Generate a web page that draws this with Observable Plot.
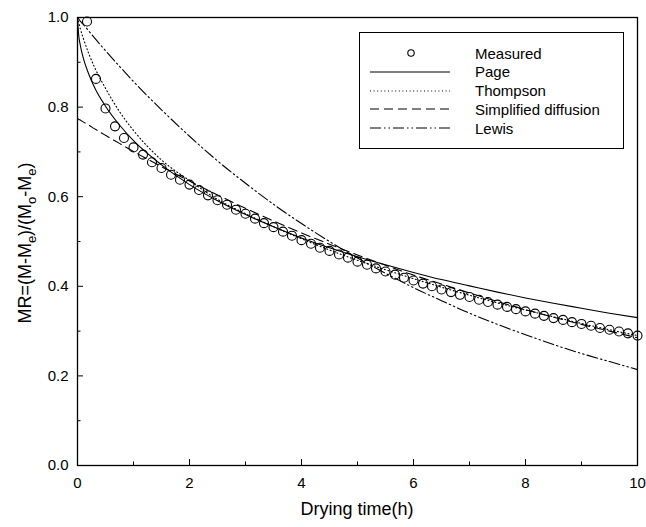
<!DOCTYPE html>
<html><head><meta charset="utf-8">
<script src="https://cdn.jsdelivr.net/npm/d3@7"></script>
<script src="https://cdn.jsdelivr.net/npm/@observablehq/plot@0.6"></script>
<style>
body{margin:0;background:#fff;font-family:"Liberation Sans",Arial,sans-serif;}
#wrap{position:relative;width:646px;height:527px;}
#legend{position:absolute;left:359px;top:32px;width:265px;height:117px;border:1px solid #000;background:#fff;box-sizing:border-box;}
</style></head><body><div id="wrap"></div>
<script>
// Measured drying data (time in h, moisture ratio)
const measuredTime = [0.17,0.33,0.50,0.67,0.83,1.00,1.17,1.33,1.50,1.67,1.83,2.00,2.17,2.33,2.50,2.67,2.83,3.00,3.17,3.33,3.50,3.67,3.83,4.00,4.17,4.33,4.50,4.67,4.83,5.00,5.17,5.33,5.50,5.67,5.83,6.00,6.17,6.33,6.50,6.67,6.83,7.00,7.17,7.33,7.50,7.67,7.83,8.00,8.17,8.33,8.50,8.67,8.83,9.00,9.17,9.33,9.50,9.67,9.83,10.00];
const measuredMR = [0.991,0.863,0.797,0.757,0.731,0.710,0.694,0.677,0.664,0.649,
0.638,0.627,0.615,0.603,0.592,0.582,0.571,0.562,0.551,0.541,
0.532,0.522,0.513,0.503,0.495,0.486,0.479,0.471,0.464,0.455,
0.448,0.440,0.433,0.426,0.419,0.413,0.406,0.400,0.393,0.387,
0.381,0.376,0.370,0.365,0.359,0.354,0.349,0.344,0.339,0.334,
0.329,0.325,0.320,0.316,0.312,0.307,0.303,0.299,0.295,0.290];

// Model curves
const modelTime = [0,0.02,0.05,0.1,0.2,0.3,0.5,0.75,1,1.5,2,2.5,3,3.5,4,4.5,5,5.5,6,6.5,7,7.5,8,8.5,9,9.5,10];
const pageMR = [1.0,0.962,0.938,0.911,0.874,0.845,0.802,0.760,0.725,0.671,0.627,0.591,0.560,0.533,0.508,0.486,0.466,0.448,0.431,0.415,0.401,0.387,0.374,0.362,0.351,0.340,0.330];
const thompsonMR = [1.0,0.990,0.975,0.955,0.920,0.890,0.842,0.790,0.748,0.682,0.636,0.594,0.562,0.533,0.506,0.481,0.458,0.437,0.417,0.398,0.380,0.363,0.347,0.332,0.317,0.303,0.290];
const diffusionMR = [0.775,0.773,0.771,0.767,0.760,0.752,0.737,0.719,0.701,0.667,0.635,0.604,0.574,0.546,0.519,0.494,0.470,0.447,0.425,0.405,0.385,0.366,0.348,0.331,0.315,0.300,0.285];
const lewisMR = [1.0,0.997,0.992,0.985,0.970,0.955,0.926,0.891,0.857,0.794,0.735,0.680,0.630,0.583,0.540,0.500,0.463,0.429,0.397,0.368,0.340,0.315,0.292,0.270,0.250,0.232,0.214];

const legendLabels = ["Measured","Page","Thompson","Simplified diffusion","Lewis"];
const xMajor = [0,2,4,6,8,10];
const xMinor = [1,3,5,7,9];
const yMajor = [0,0.2,0.4,0.6,0.8,1.0];
const yMinor = [0.1,0.3,0.5,0.7,0.9];

const measured = measuredTime.map((t,i)=>({t, mr: measuredMR[i]}));
const mk = arr => modelTime.map((t,i)=>({t, mr: arr[i]}));

const dashes = {Page: null, Thompson: "1,2.6", "Simplified diffusion": "9,5", Lewis: "11,3,1.5,3,1.5,3"};

// inward tick lengths expressed in data units (6px / 3px)
const W = 646 - 77 - 9, H = 527 - 17 - 62;
const tickX = len => len / H;   // along y for x ticks
const tickY = len => len * 10 / W; // along x for y ticks

const chart = Plot.plot({
  width: 646, height: 527,
  marginLeft: 77, marginRight: 9, marginTop: 17, marginBottom: 62,
  style: {fontSize: "15px", fontFamily: "'Liberation Sans', Arial, sans-serif", color: "#000", background: "#fff"},
  x: {domain: [0, 10]},
  y: {domain: [0, 1]},
  marks: [
    Plot.axisX(xMajor, {tickSize: 0, tickPadding: 12, label: null, tickFormat: d => String(d)}),
    Plot.axisY(yMajor, {tickSize: 0, tickPadding: 9, label: null, tickFormat: d => d.toFixed(1)}),
    Plot.ruleX(xMajor, {x: d => d, y1: 0, y2: tickX(6), stroke: "#000", strokeWidth: 1}),
    Plot.ruleX(xMinor, {x: d => d, y1: 0, y2: tickX(3.5), stroke: "#000", strokeWidth: 1}),
    Plot.ruleY(yMajor, {y: d => d, x1: 0, x2: tickY(6), stroke: "#000", strokeWidth: 1}),
    Plot.ruleY(yMinor, {y: d => d, x1: 0, x2: tickY(3.5), stroke: "#000", strokeWidth: 1}),
    Plot.line(mk(pageMR), {x: "t", y: "mr", stroke: "#000", strokeWidth: 1.1, curve: "monotone-x"}),
    Plot.line(mk(thompsonMR), {x: "t", y: "mr", stroke: "#000", strokeWidth: 1.1, strokeDasharray: dashes.Thompson, curve: "monotone-x"}),
    Plot.line(mk(diffusionMR), {x: "t", y: "mr", stroke: "#000", strokeWidth: 1.1, strokeDasharray: dashes["Simplified diffusion"], curve: "monotone-x"}),
    Plot.line(mk(lewisMR), {x: "t", y: "mr", stroke: "#000", strokeWidth: 1.1, strokeDasharray: dashes.Lewis, curve: "monotone-x"}),
    Plot.dot(measured, {x: "t", y: "mr", r: 4.5, stroke: "#000", strokeWidth: 1.1, fill: "none"}),
    Plot.frame({stroke: "#000", strokeWidth: 1.3})
  ]
});

const svg = d3.select(chart);
// y label with subscripts
const yl = svg.append("text")
  .attr("transform", "translate(31,243) rotate(-90)")
  .attr("text-anchor", "middle")
  .attr("fill", "#000")
  .style("font-size", "18px");
const parts = [["MR=(M-M",0],["e",1],[")/(M",0],["o",1],["-M",0],["e",1],[")",0]];
let prevSub = 0;
for (const [txt, sub] of parts) {
  const ts = yl.append("tspan").text(txt);
  const shift = (sub - prevSub) * 5;
  if (shift) ts.attr("dy", shift);
  if (sub) ts.style("font-size", "13px");
  prevSub = sub;
}
svg.append("text")
  .attr("x", 357).attr("y", 515)
  .attr("text-anchor", "middle")
  .attr("fill", "#000")
  .style("font-size", "18px")
  .text("Drying time(h)");

const wrap = document.getElementById("wrap");
wrap.appendChild(chart);

// Legend inside the plot area
const legend = d3.select(wrap).append("div").attr("id", "legend");
legendLabels.forEach((name, i) => {
  const row = legend.append("div")
    .style("position", "absolute").style("left", "10px").style("top", (11 + i * 18.8) + "px")
    .style("height", "18px").style("display", "flex").style("align-items", "center");
  const s = row.append("svg").attr("width", 82).attr("height", 18).style("display", "block");
  if (name === "Measured") {
    s.append("circle").attr("cx", 41).attr("cy", 9).attr("r", 3.2).attr("fill", "none").attr("stroke", "#000").attr("stroke-width", 1.1);
  } else {
    const l = s.append("line").attr("x1", 0).attr("x2", 80).attr("y1", 9).attr("y2", 9).attr("stroke", "#000").attr("stroke-width", 1.1);
    if (dashes[name]) l.attr("stroke-dasharray", dashes[name]);
  }
  row.append("span").text(name)
    .style("margin-left", "23px").style("font-size", "15px").style("color", "#000");
});
</script>
</body></html>
